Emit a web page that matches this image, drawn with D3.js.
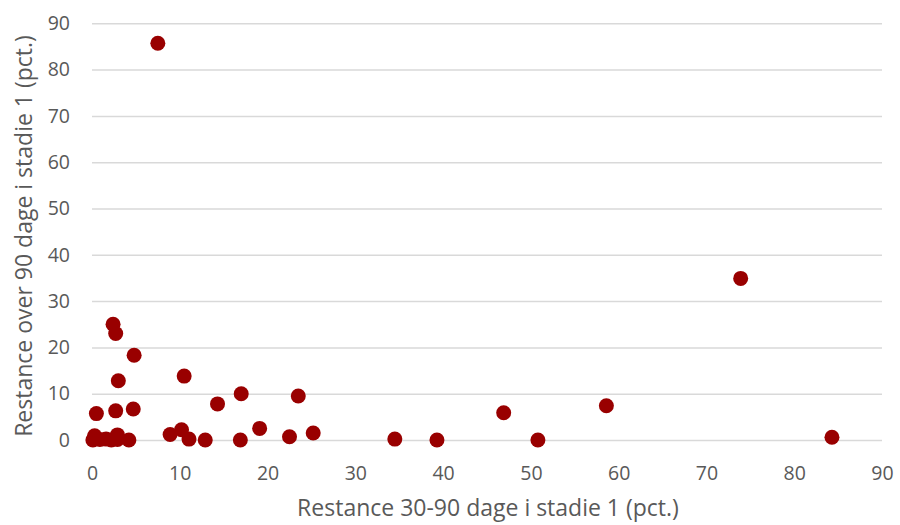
<!DOCTYPE html>
<html>
<head>
<meta charset="utf-8">
<script src="https://cdn.jsdelivr.net/npm/d3@7/dist/d3.min.js"></script>
<style>
  html, body { margin: 0; padding: 0; background: #fff; }
  svg { display: block; }
  text { font-family: "Open Sans", "Liberation Sans", sans-serif; fill: #595959; }
</style>
</head>
<body>
<svg id="chart" width="900" height="525"></svg>
<script>
// Share of loans 30-90 days in arrears (stage 1), pct.
const restance30to90 = [
  7.5, 73.9, 2.4, 2.7, 4.8, 3.0, 10.5, 17.0, 23.5, 14.3,
  58.6, 46.9, 4.7, 2.7, 0.5, 19.1, 10.2, 8.9, 25.2, 22.5,
  11.05, 12.9, 16.9, 34.5, 39.3, 50.8, 84.3, 2.9,
  0.1, 0.3, 0.9, 1.6, 2.2, 2.9, 4.2
];
// Share of loans more than 90 days in arrears (stage 1), pct.
const restanceOver90 = [
  85.7, 34.9, 25.0, 23.0, 18.3, 12.8, 13.8, 10.0, 9.5, 7.8,
  7.4, 5.9, 6.7, 6.3, 5.7, 2.5, 2.2, 1.2, 1.5, 0.7,
  0.2, 0.0, 0.0, 0.2, 0.0, 0.0, 0.6, 1.1,
  0.0, 0.9, 0.1, 0.2, 0.0, 0.1, 0.0
];
const xTicks = [0, 10, 20, 30, 40, 50, 60, 70, 80, 90];
const yTicks = [0, 10, 20, 30, 40, 50, 60, 70, 80, 90];
const xTitle = "Restance 30-90 dage i stadie 1 (pct.)";
const yTitle = "Restance over 90 dage i stadie 1 (pct.)";

const svg = d3.select("#chart");
const plot = { left: 92, right: 882, top: 23.3, bottom: 440 };

const x = d3.scaleLinear().domain([0, 90]).range([plot.left, plot.right]);
const y = d3.scaleLinear().domain([0, 90]).range([plot.bottom, plot.top]);

// Horizontal gridlines and y tick labels
const yAxis = d3.axisLeft(y).tickValues(yTicks).tickSize(-(plot.right - plot.left)).tickPadding(22);
const gy = svg.append("g").attr("transform", `translate(${plot.left},0)`).call(yAxis);
gy.select(".domain").remove();
gy.selectAll(".tick line").attr("stroke", "#d9d9d9").attr("stroke-width", 1.5);
gy.selectAll(".tick text").attr("font-size", 19.5).attr("fill", "#595959")
  .style("font-family", "'Open Sans', sans-serif");

// x tick labels (no tick marks)
const xAxis = d3.axisBottom(x).tickValues(xTicks).tickSize(0).tickPadding(26);
const gx = svg.append("g").attr("transform", `translate(0,${plot.bottom})`).call(xAxis);
gx.select(".domain").remove();
gx.selectAll(".tick text").attr("font-size", 19.5).attr("fill", "#595959")
  .style("font-family", "'Open Sans', sans-serif");

// Points
const points = restance30to90.map((v, i) => ({ x: v, y: restanceOver90[i] }));
svg.append("g").selectAll("circle").data(points).join("circle")
  .attr("cx", d => x(d.x))
  .attr("cy", d => y(d.y))
  .attr("r", 7.5)
  .attr("fill", "#990000");

// Axis titles
svg.append("text")
  .attr("x", 488)
  .attr("y", 516)
  .attr("text-anchor", "middle")
  .attr("font-size", 23)
  .text(xTitle);

svg.append("text")
  .attr("transform", "translate(32,236) rotate(-90)")
  .attr("text-anchor", "middle")
  .attr("font-size", 23)
  .text(yTitle);
</script>
</body>
</html>
